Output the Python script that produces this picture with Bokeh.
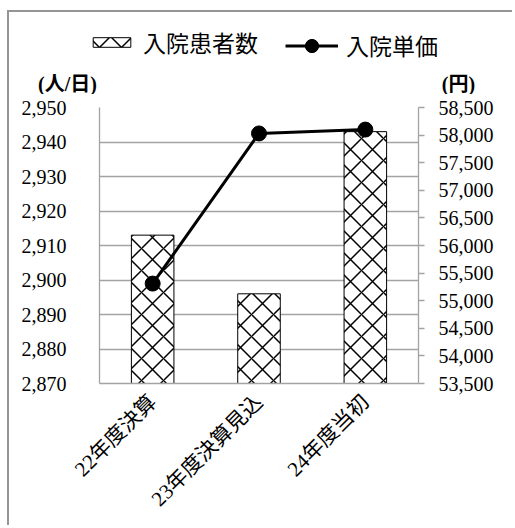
import math

from bokeh.embed import file_html
from bokeh.models import (ColumnDataSource, FactorRange, FixedTicker, Label,
                          Legend, LegendItem, LinearAxis, NumeralTickFormatter,
                          Range1d)
from bokeh.plotting import figure
from bokeh.resources import INLINE

# --- data -------------------------------------------------------------
categories = ["22年度決算", "23年度決算見込", "24年度当初"]
inpatients = [2913, 2896, 2943]          # 入院患者数 (人/日)
unit_price = [55310, 58030, 58100]       # 入院単価 (円)
left_ticks = [2870, 2880, 2890, 2900, 2910, 2920, 2930, 2940, 2950]
right_ticks = [53500, 54000, 54500, 55000, 55500, 56000,
               56500, 57000, 57500, 58000, 58500]

SERIF = "Liberation Serif"
SERIF_JP = "Liberation Serif, Noto Sans CJK JP"
GRAY = "#a3a3a3"
EDGE = "2px solid #959595"
W = 505
HEAD_H = 84
MAIN_H = 431

CROSS_STYLE = dict(fill_color="white", line_color="black", line_width=1,
                   hatch_pattern="diagonal_cross", hatch_color="black",
                   hatch_scale=22, hatch_weight=1.5)
LINE_STYLE = dict(line_color="black", line_width=3)
MARK_STYLE = dict(size=15, fill_color="black", line_color="black")

src = ColumnDataSource(dict(cat=categories, pts=inpatients, price=unit_price))

# --- main chart -------------------------------------------------------
p = figure(
    width=W, height=MAIN_H,
    x_range=FactorRange(*categories),
    y_range=Range1d(left_ticks[0], left_ticks[-1]),
    output_backend="svg", toolbar_location=None,
    min_border_left=90, min_border_right=96,
    min_border_top=13, min_border_bottom=142,
    styles={"margin-left": "7px", "border-left": EDGE},
)
p.outline_line_color = None
p.background_fill_color = "white"
p.border_fill_color = "white"
p.extra_y_ranges = {"price": Range1d(right_ticks[0], right_ticks[-1])}

p.vbar(x="cat", top="pts", bottom=left_ticks[0], width=0.4, source=src,
       **CROSS_STYLE)
p.line(x="cat", y="price", source=src, y_range_name="price", **LINE_STYLE)
p.scatter(x="cat", y="price", source=src, y_range_name="price", **MARK_STYLE)

TICK_SIZE = "20px"

yl = p.yaxis[0]
yl.ticker = FixedTicker(ticks=left_ticks)
yl.formatter = NumeralTickFormatter(format="0,0")
yl.axis_line_color = GRAY
yl.axis_line_width = 1.3
yl.major_tick_line_color = None
yl.minor_tick_line_color = None
yl.major_label_standoff = 27
yl.major_label_text_font = SERIF
yl.major_label_text_font_size = TICK_SIZE
yl.major_label_text_color = "black"

yr = LinearAxis(y_range_name="price")
yr.ticker = FixedTicker(ticks=right_ticks)
yr.formatter = NumeralTickFormatter(format="0,0")
yr.axis_line_color = GRAY
yr.axis_line_width = 1.3
yr.major_tick_line_color = GRAY
yr.major_tick_line_width = 1.3
yr.major_tick_in = 0
yr.major_tick_out = 6
yr.minor_tick_line_color = None
yr.major_label_standoff = 14
yr.major_label_text_font = SERIF
yr.major_label_text_font_size = TICK_SIZE
yr.major_label_text_color = "black"
p.add_layout(yr, "right")

xa = p.xaxis[0]
xa.axis_line_color = GRAY
xa.axis_line_width = 1.3
xa.major_tick_line_color = None
xa.minor_tick_line_color = None
xa.major_label_orientation = math.pi / 4
xa.major_label_standoff = 9
xa.major_label_text_font = SERIF_JP
xa.major_label_text_font_size = "21px"
xa.major_label_text_color = "black"

p.xgrid.grid_line_color = None
p.ygrid.ticker = FixedTicker(ticks=left_ticks)
p.ygrid.grid_line_color = GRAY
p.ygrid.grid_line_width = 1.3

# --- header: legend and unit captions (pixel coordinates) ---------------
h = figure(
    width=W, height=HEAD_H,
    x_range=Range1d(0, W), y_range=Range1d(HEAD_H, 0),
    x_axis_type=None, y_axis_type=None,
    output_backend="svg", toolbar_location=None,
    min_border=0, min_border_left=0, min_border_right=0,
    min_border_top=0, min_border_bottom=0,
    styles={"margin-left": "7px", "margin-top": "10px",
            "border-left": EDGE, "border-top": EDGE},
)
h.outline_line_color = None
h.grid.grid_line_color = None
h.background_fill_color = "white"
h.border_fill_color = "white"

# legend keys: same styles, no drawable positions
nan = float("nan")
kb = h.vbar(x=[nan], top=[nan], width=1, **CROSS_STYLE)
kl = h.line(x=[nan, nan], y=[nan, nan], **LINE_STYLE)
ks = h.scatter(x=[nan], y=[nan], **MARK_STYLE)

KEY_TEXT = dict(label_text_font=SERIF_JP, label_text_font_size="23px",
                label_text_color="black", label_standoff=8,
                padding=0, margin=0, border_line_color=None,
                background_fill_alpha=0, orientation="horizontal")

# bar key: flat swatch
h.add_layout(Legend(items=[LegendItem(label="入院患者数", renderers=[kb])],
                    location=(79, 37), glyph_width=47, glyph_height=12,
                    **KEY_TEXT))
# line key: taller box so the marker keeps its size
h.add_layout(Legend(items=[LegendItem(label="入院単価", renderers=[kl, ks])],
                    location=(276, 34), glyph_width=53, glyph_height=33,
                    **KEY_TEXT))

for txt, xpos in (("(人/日)", 58), ("(円)", 449)):
    h.add_layout(Label(x=xpos, y=71, text=txt, text_align="center",
                       text_baseline="middle", text_font=SERIF_JP,
                       text_font_size="20px", text_font_style="bold",
                       text_color="black"))

open("out.html", "w").write(file_html([h, p], INLINE))
